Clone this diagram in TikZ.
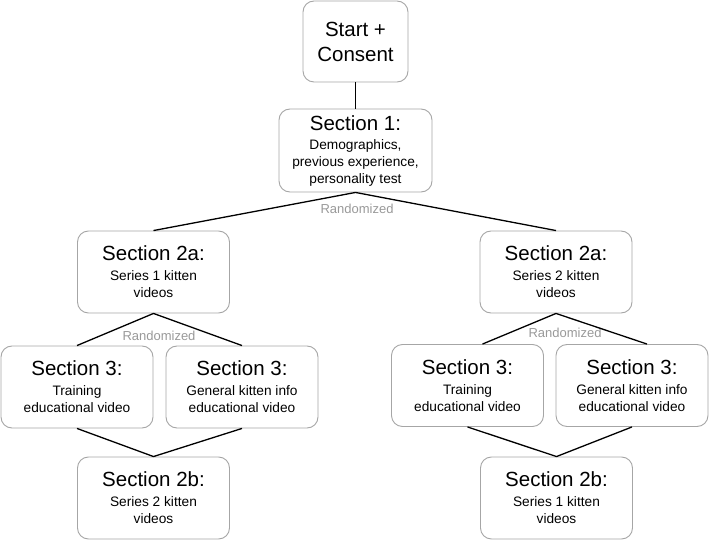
\documentclass[tikz,border=0pt]{standalone}
\usepackage{fontspec}
\setmainfont{Liberation Sans}
\definecolor{boxgray}{HTML}{A6A6A6}
\definecolor{labgray}{HTML}{999999}
\newcommand{\ttl}[1]{{\fontsize{20.5}{17}\selectfont #1}}
\begin{document}
\begin{tikzpicture}[x=1pt,y=-1pt,
  box/.style={draw=boxgray, line width=0.9pt, rounded corners=11pt, fill=white,
    align=center, inner sep=0pt, minimum width=152pt, minimum height=82pt,
    font=\fontsize{13.7}{17}\selectfont},
  conn/.style={draw=black, line width=1.3pt},
  randlab/.style={text=labgray, font=\fontsize{13}{15}\selectfont, inner sep=0pt}]
\useasboundingbox (0,0) rectangle (710,540);
\node[box, minimum width=105pt, minimum height=81pt, font=\fontsize{20.5}{25}\selectfont] (start) at (355.5,41.5) {Start +\\Consent};
\node[box, minimum width=153pt, minimum height=83pt] (s1) at (355.5,150.5) {\ttl{Section 1:}\\[2pt]Demographics,\\previous experience,\\personality test};
\node[box] (L2a) at (153.5,272) {\ttl{Section 2a:}\\[3pt]Series 1 kitten\\videos};
\node[box] (L3a) at (77,387) {\ttl{Section 3:}\\[3pt]Training\\educational video};
\node[box] (L3b) at (242,387) {\ttl{Section 3:}\\[3pt]General kitten info\\educational video};
\node[box] (L2b) at (153.5,498) {\ttl{Section 2b:}\\[3pt]Series 2 kitten\\videos};
\node[box] (R2a) at (556,272) {\ttl{Section 2a:}\\[3pt]Series 2 kitten\\videos};
\node[box] (R3a) at (467.5,385.5) {\ttl{Section 3:}\\[3pt]Training\\educational video};
\node[box] (R3b) at (632,385.5) {\ttl{Section 3:}\\[3pt]General kitten info\\educational video};
\node[box] (R2b) at (556.5,498) {\ttl{Section 2b:}\\[3pt]Series 1 kitten\\videos};
\node[randlab] (rtop) at (357,209) {Randomized};
\node[randlab] (rleft) at (159,336) {Randomized};
\node[randlab] (rright) at (565,333) {Randomized};
\coordinate (R3aTop) at ([xshift=15pt]R3a.north);
\coordinate (R3bTop) at ([xshift=15pt]R3b.north);
\draw[conn] (start.south) -- (s1.north);
\draw[conn] (L2a.north) -- (s1.south) -- (R2a.north);
\draw[conn] (L3a.north) -- (L2a.south) -- (L3b.north);
\draw[conn] (L3a.south) -- (L2b.north) -- (L3b.south);
\draw[conn] (R3aTop) -- (R2a.south) -- (R3bTop);
\draw[conn] (R3a.south) -- (R2b.north) -- (R3b.south);
\end{tikzpicture}
\end{document}
